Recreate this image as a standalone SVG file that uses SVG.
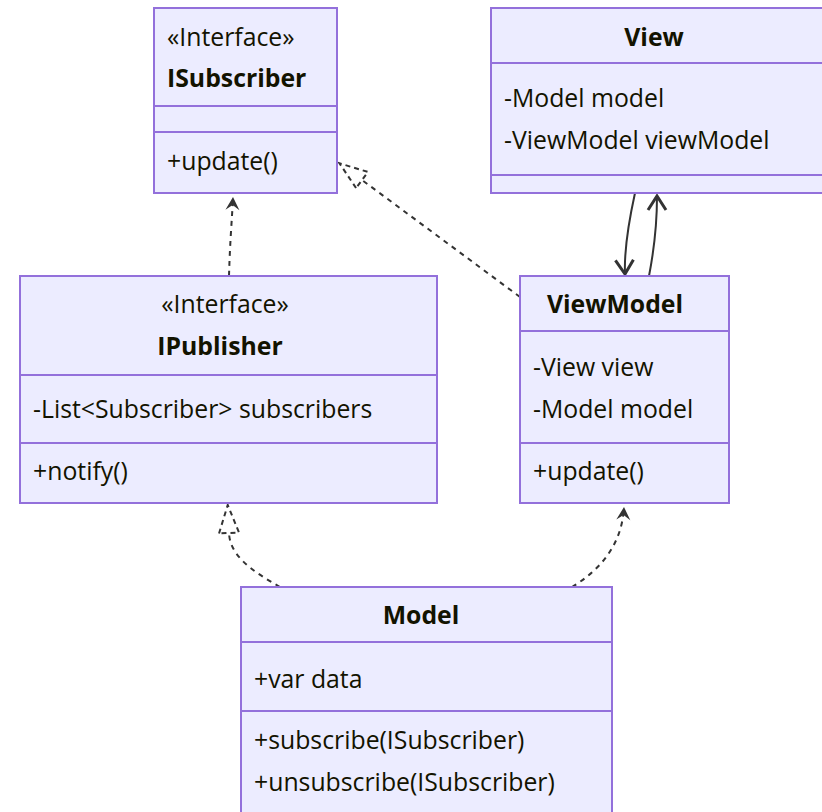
<svg xmlns="http://www.w3.org/2000/svg" width="822" height="812" viewBox="0 0 822 812">
<defs>
<style>
.box{fill:#ECECFF;stroke:#9370DB;stroke-width:2}
.div{stroke:#9370DB;stroke-width:2}
.t{font-family:"Open Sans","Liberation Sans",sans-serif;font-size:24.8px;fill:#131300}
.b{font-weight:bold}
.m{text-anchor:middle}
.edge{fill:none;stroke:#333;stroke-width:2}
.dash{stroke-dasharray:5,5}
</style>
<marker id="dep" markerUnits="userSpaceOnUse" viewBox="-14 -9 16 18" refX="0" refY="0" markerWidth="16" markerHeight="18" orient="auto">
<path d="M0,0 L-13,-7 L-8,0 L-13,7 Z" fill="#333"/>
</marker>
<marker id="assoc" markerUnits="userSpaceOnUse" viewBox="-16 -11 18 22" refX="0" refY="0" markerWidth="18" markerHeight="22" orient="auto">
<path d="M-14,-9 L0,0 L-14,9" fill="none" stroke="#333" stroke-width="3"/>
</marker>
<marker id="real" markerUnits="userSpaceOnUse" viewBox="-2 -12 32 24" refX="0" refY="0" markerWidth="32" markerHeight="24" orient="auto">
<path d="M0,-10 L28,0 L0,10 Z" fill="none" stroke="#333" stroke-width="2" stroke-dasharray="5,4"/>
</marker>
</defs>
<g id="edges">
<path class="edge dash" d="M229,276 C230,240 232,220 233,197" marker-end="url(#dep)"/>
<path class="edge dash" d="M520,297 L362,180" marker-end="url(#real)"/>
<path class="edge" d="M635,193 C628,225 624,250 625,274" marker-end="url(#assoc)"/>
<path class="edge" d="M649,276 C655,245 657,220 657,196" marker-end="url(#assoc)"/>
<path class="edge dash" d="M280,587 C250,570 230,555 229,533" marker-end="url(#real)"/>
<path class="edge dash" d="M572,587 C600,570 622,545 624,507" marker-end="url(#dep)"/>
</g>
<g id="ISubscriber">
<rect class="box" x="154" y="8" width="183" height="185"/>
<line class="div" x1="154" y1="106" x2="337" y2="106"/>
<line class="div" x1="154" y1="132" x2="337" y2="132"/>
<text class="t" x="167" y="46">«Interface»</text>
<text class="t b" x="167" y="87">ISubscriber</text>
<text class="t" x="167" y="170">+update()</text>
</g>
<g id="View">
<rect class="box" x="491" y="8" width="345" height="185"/>
<line class="div" x1="491" y1="63" x2="836" y2="63"/>
<line class="div" x1="491" y1="175" x2="836" y2="175"/>
<text class="t b m" x="654" y="46">View</text>
<text class="t" x="504" y="107">-Model model</text>
<text class="t" x="504" y="149">-ViewModel viewModel</text>
</g>
<g id="IPublisher">
<rect class="box" x="20" y="276" width="417" height="227"/>
<line class="div" x1="20" y1="375" x2="437" y2="375"/>
<line class="div" x1="20" y1="443" x2="437" y2="443"/>
<text class="t m" x="225" y="313">«Interface»</text>
<text class="t b m" x="220" y="355">IPublisher</text>
<text class="t" x="33" y="418">-List&lt;Subscriber&gt; subscribers</text>
<text class="t" x="33" y="480">+notify()</text>
</g>
<g id="ViewModel">
<rect class="box" x="520" y="276" width="209" height="227"/>
<line class="div" x1="520" y1="331" x2="729" y2="331"/>
<line class="div" x1="520" y1="443" x2="729" y2="443"/>
<text class="t b m" x="615" y="313">ViewModel</text>
<text class="t" x="533" y="376">-View view</text>
<text class="t" x="533" y="418">-Model model</text>
<text class="t" x="533" y="480">+update()</text>
</g>
<g id="Model">
<rect class="box" x="241" y="587" width="371" height="240"/>
<line class="div" x1="241" y1="642" x2="612" y2="642"/>
<line class="div" x1="241" y1="711" x2="612" y2="711"/>
<text class="t b m" x="421" y="624">Model</text>
<text class="t" x="254" y="688">+var data</text>
<text class="t" x="254" y="749">+subscribe(ISubscriber)</text>
<text class="t" x="254" y="791">+unsubscribe(ISubscriber)</text>
</g>
</svg>
